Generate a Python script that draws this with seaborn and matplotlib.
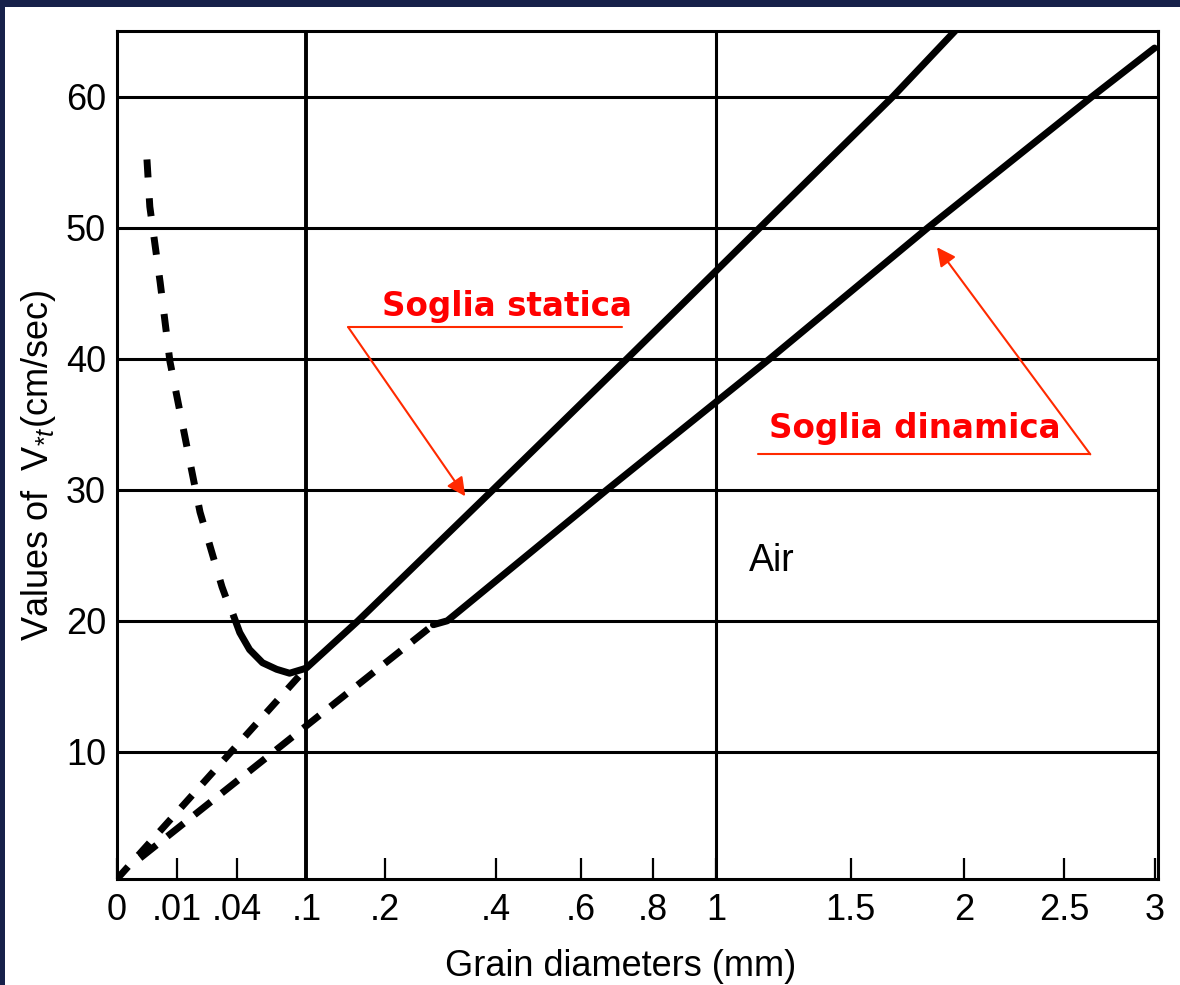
import matplotlib
matplotlib.use("Agg")
import matplotlib.pyplot as plt
import seaborn as sns
import numpy as np
from matplotlib.patches import Rectangle

# grain diameter (mm) vs threshold friction velocity V*t (cm/s)
static_d = [0.1, 0.162, 0.394, 0.725, 1.152, 1.678, 1.957]
static_v = [16.4, 20, 30, 40, 50, 60, 65]
static_ext_d = [0.0, 0.1]
static_ext_v = [0.3, 16.4]
dynamic_d = [0.279, 0.304, 0.669, 1.188, 1.833, 2.65, 3.0]
dynamic_v = [19.7, 20, 30, 40, 50, 60, 63.7]
dynamic_ext_d = [0.0015, 0.279]
dynamic_ext_v = [1.9, 19.7]
fine_d = [0.0025, 0.0030, 0.0052, 0.0078, 0.0129, 0.0192, 0.0307, 0.0375]
fine_v = [55.2, 51.6, 45.8, 39.8, 34.0, 28.3, 22.6, 20.3]
bend_d = [0.0375, 0.042, 0.049, 0.059, 0.071, 0.083, 0.096, 0.1]
bend_v = [20.5, 19.1, 17.8, 16.8, 16.3, 16.0, 16.3, 16.4]

xtick_vals = [0, 0.01, 0.04, 0.1, 0.2, 0.4, 0.6, 0.8, 1, 1.5, 2, 2.5, 3]
xtick_labels = ["0", ".01", ".04", ".1", ".2", ".4", ".6", ".8", "1", "1.5", "2", "2.5", "3"]
ytick_vals = [10, 20, 30, 40, 50, 60]

sns.set_theme(style="white")
plt.rcParams["font.family"] = ["Liberation Sans", "DejaVu Sans"]
plt.rcParams["mathtext.fontset"] = "custom"
plt.rcParams["mathtext.rm"] = "Liberation Sans"
plt.rcParams["mathtext.it"] = "Liberation Sans:italic"

fig = plt.figure(figsize=(11.8, 9.85), dpi=100)
fig.patch.set_facecolor("#17214a")
fig.add_artist(Rectangle((5 / 1180, 0), 1, 1 - 7 / 985, transform=fig.transFigure,
                         facecolor="white", edgecolor="none", zorder=-10))
ax = fig.add_axes([117 / 1180, 1 - 879 / 985, (1158 - 117) / 1180, (879 - 31) / 985])
ax.set_facecolor("white")

sq = lambda x: np.sqrt(np.clip(x, 0, None))
ax.set_xscale("function", functions=(sq, np.square))

for y in ytick_vals:
    ax.axhline(y, color="black", lw=2.2, zorder=1)
ax.axvline(0.1, color="black", lw=2.8, zorder=1)
ax.axvline(1.0, color="black", lw=2.2, zorder=1)

kw = dict(color="black", lw=5, estimator=None, sort=False, ax=ax, zorder=3)
sns.lineplot(x=static_d, y=static_v, **kw)
sns.lineplot(x=dynamic_d, y=dynamic_v, **kw)
sns.lineplot(x=bend_d, y=bend_v, solid_capstyle="butt", solid_joinstyle="round", **kw)
sns.lineplot(x=static_ext_d, y=static_ext_v, linestyle=(0, (2.4, 2.2)), dash_capstyle="butt", **kw)
sns.lineplot(x=dynamic_ext_d, y=dynamic_ext_v, linestyle=(0, (3.0, 2.0)), dash_capstyle="butt", **kw)
sns.lineplot(x=fine_d, y=fine_v, linestyle=(0, (2.6, 3.0)), dash_capstyle="butt", **kw)

ax.set_xlim(0, 3.02)
ax.set_ylim(0.3, 65)
ax.set_xticks(xtick_vals)
ax.set_xticklabels(xtick_labels)
ax.set_yticks(ytick_vals)
ax.tick_params(axis="x", direction="in", length=15, width=1.6, color="black",
               labelsize=26, pad=10, labelcolor="black", bottom=True)
ax.tick_params(axis="y", length=0, labelsize=26, pad=8, labelcolor="black")
for s in ax.spines.values():
    s.set_visible(True)
    s.set_color("black")
    s.set_linewidth(2.2)

ax.set_xlabel("Grain diameters (mm)", fontsize=26, color="black")
ax.xaxis.set_label_coords(0.484, -0.082)
ax.set_ylabel("Values of  V$_{*t}$(cm/sec)", fontsize=26, color="black")
ax.yaxis.set_label_coords(-0.057, 0.488)

ax.text(1.196, 24.6, "Air", fontsize=27, color="black", ha="center", va="center")

red = "#ff0000"
arrow = "#ff2a00"
ax.text(0.424, 44.0, "Soglia statica", fontsize=23.5, fontweight="bold", color=red,
        family="DejaVu Sans", ha="center", va="center")
ax.plot([0.149, 0.711], [42.4, 42.4], color=arrow, lw=1.5, zorder=4)
ax.annotate("", xy=(0.338, 29.5), xytext=(0.149, 42.4),
            arrowprops=dict(arrowstyle="-|>", color=arrow, lw=1.5, mutation_scale=28,
                            shrinkA=0, shrinkB=0), zorder=4)

ax.text(1.775, 34.7, "Soglia dinamica", fontsize=23.5, fontweight="bold", color=red,
        family="DejaVu Sans", ha="center", va="center")
ax.plot([1.145, 2.64], [32.7, 32.7], color=arrow, lw=1.5, zorder=4)
ax.annotate("", xy=(1.874, 48.5), xytext=(2.64, 32.7),
            arrowprops=dict(arrowstyle="-|>", color=arrow, lw=1.5, mutation_scale=28,
                            shrinkA=0, shrinkB=0), zorder=4)

fig.savefig("out.png", dpi=100, facecolor=fig.get_facecolor())
